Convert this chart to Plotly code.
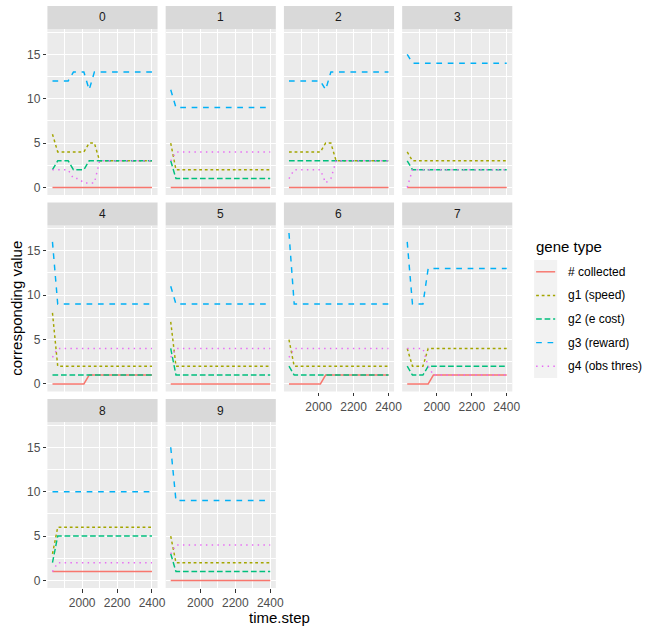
import plotly.graph_objects as go

# ---------------- data ----------------
time_step = [1830, 1860, 1890, 1920, 1950, 1980, 2010, 2040, 2070, 2100,
             2130, 2160, 2190, 2220, 2250, 2280, 2310, 2340, 2370, 2400]

gene_types = ["# collected", "g1 (speed)", "g2 (e cost)", "g3 (reward)", "g4 (obs thres)"]
panel_ids = ["0", "1", "2", "3", "4", "5", "6", "7", "8", "9"]

p0_collected = [0, 0, 0, 0, 0, 0, 0, 0, 0, 0, 0, 0, 0, 0, 0, 0, 0, 0, 0, 0]
p0_g1 = [6, 4, 4, 4, 4, 4, 4, 5, 5, 3, 3, 3, 3, 3, 3, 3, 3, 3, 3, 3]
p0_g2 = [2, 3, 3, 3, 2, 2, 2, 3, 3, 3, 3, 3, 3, 3, 3, 3, 3, 3, 3, 3]
p0_g3 = [12, 12, 12, 12, 13, 13, 13, 11, 13, 13, 13, 13, 13, 13, 13, 13, 13, 13, 13, 13]
p0_g4 = [2, 2, 2, 2, 1, 1, 0.5, 0.5, 0.5, 3, 3, 3, 3, 3, 3, 3, 3, 3, 3, 3]

p1_collected = [0, 0, 0, 0, 0, 0, 0, 0, 0, 0, 0, 0, 0, 0, 0, 0, 0, 0, 0, 0]
p1_g1 = [5, 2, 2, 2, 2, 2, 2, 2, 2, 2, 2, 2, 2, 2, 2, 2, 2, 2, 2, 2]
p1_g2 = [3, 1, 1, 1, 1, 1, 1, 1, 1, 1, 1, 1, 1, 1, 1, 1, 1, 1, 1, 1]
p1_g3 = [11, 9, 9, 9, 9, 9, 9, 9, 9, 9, 9, 9, 9, 9, 9, 9, 9, 9, 9, 9]
p1_g4 = [3, 4, 4, 4, 4, 4, 4, 4, 4, 4, 4, 4, 4, 4, 4, 4, 4, 4, 4, 4]

p2_collected = [0, 0, 0, 0, 0, 0, 0, 0, 0, 0, 0, 0, 0, 0, 0, 0, 0, 0, 0, 0]
p2_g1 = [4, 4, 4, 4, 4, 4, 4, 5, 5, 3, 3, 3, 3, 3, 3, 3, 3, 3, 3, 3]
p2_g2 = [3, 3, 3, 3, 3, 3, 3, 3, 3, 3, 3, 3, 3, 3, 3, 3, 3, 3, 3, 3]
p2_g3 = [12, 12, 12, 12, 12, 12, 12, 11, 13, 13, 13, 13, 13, 13, 13, 13, 13, 13, 13, 13]
p2_g4 = [1, 2, 2, 2, 2, 2, 2, 0.5, 1, 3, 3, 3, 3, 3, 3, 3, 3, 3, 3, 3]

p3_collected = [0, 0, 0, 0, 0, 0, 0, 0, 0, 0, 0, 0, 0, 0, 0, 0, 0, 0, 0, 0]
p3_g1 = [4, 3, 3, 3, 3, 3, 3, 3, 3, 3, 3, 3, 3, 3, 3, 3, 3, 3, 3, 3]
p3_g2 = [3, 2, 2, 2, 2, 2, 2, 2, 2, 2, 2, 2, 2, 2, 2, 2, 2, 2, 2, 2]
p3_g3 = [15, 14, 14, 14, 14, 14, 14, 14, 14, 14, 14, 14, 14, 14, 14, 14, 14, 14, 14, 14]
p3_g4 = [0, 2, 2, 2, 2, 2, 2, 2, 2, 2, 2, 2, 2, 2, 2, 2, 2, 2, 2, 2]

p4_collected = [0, 0, 0, 0, 0, 0, 0, 1, 1, 1, 1, 1, 1, 1, 1, 1, 1, 1, 1, 1]
p4_g1 = [8, 2, 2, 2, 2, 2, 2, 2, 2, 2, 2, 2, 2, 2, 2, 2, 2, 2, 2, 2]
p4_g2 = [1, 1, 1, 1, 1, 1, 1, 1, 1, 1, 1, 1, 1, 1, 1, 1, 1, 1, 1, 1]
p4_g3 = [16, 9, 9, 9, 9, 9, 9, 9, 9, 9, 9, 9, 9, 9, 9, 9, 9, 9, 9, 9]
p4_g4 = [3, 4, 4, 4, 4, 4, 4, 4, 4, 4, 4, 4, 4, 4, 4, 4, 4, 4, 4, 4]

p5_collected = [0, 0, 0, 0, 0, 0, 0, 0, 0, 0, 0, 0, 0, 0, 0, 0, 0, 0, 0, 0]
p5_g1 = [7, 2, 2, 2, 2, 2, 2, 2, 2, 2, 2, 2, 2, 2, 2, 2, 2, 2, 2, 2]
p5_g2 = [4, 1, 1, 1, 1, 1, 1, 1, 1, 1, 1, 1, 1, 1, 1, 1, 1, 1, 1, 1]
p5_g3 = [11, 9, 9, 9, 9, 9, 9, 9, 9, 9, 9, 9, 9, 9, 9, 9, 9, 9, 9, 9]
p5_g4 = [3, 4, 4, 4, 4, 4, 4, 4, 4, 4, 4, 4, 4, 4, 4, 4, 4, 4, 4, 4]

p6_collected = [0, 0, 0, 0, 0, 0, 0, 1, 1, 1, 1, 1, 1, 1, 1, 1, 1, 1, 1, 1]
p6_g1 = [5, 2, 2, 2, 2, 2, 2, 2, 2, 2, 2, 2, 2, 2, 2, 2, 2, 2, 2, 2]
p6_g2 = [2, 1, 1, 1, 1, 1, 1, 1, 1, 1, 1, 1, 1, 1, 1, 1, 1, 1, 1, 1]
p6_g3 = [17, 9, 9, 9, 9, 9, 9, 9, 9, 9, 9, 9, 9, 9, 9, 9, 9, 9, 9, 9]
p6_g4 = [3, 4, 4, 4, 4, 4, 4, 4, 4, 4, 4, 4, 4, 4, 4, 4, 4, 4, 4, 4]

p7_collected = [0, 0, 0, 0, 0, 1, 1, 1, 1, 1, 1, 1, 1, 1, 1, 1, 1, 1, 1, 1]
p7_g1 = [4, 2, 2, 2, 4, 4, 4, 4, 4, 4, 4, 4, 4, 4, 4, 4, 4, 4, 4, 4]
p7_g2 = [2, 1, 1, 1, 2, 2, 2, 2, 2, 2, 2, 2, 2, 2, 2, 2, 2, 2, 2, 2]
p7_g3 = [16, 9, 9, 9, 13, 13, 13, 13, 13, 13, 13, 13, 13, 13, 13, 13, 13, 13, 13, 13]
p7_g4 = [4, 4, 4, 4, 2, 1, 1, 1, 1, 1, 1, 1, 1, 1, 1, 1, 1, 1, 1, 1]

p8_collected = [1, 1, 1, 1, 1, 1, 1, 1, 1, 1, 1, 1, 1, 1, 1, 1, 1, 1, 1, 1]
p8_g1 = [3, 6, 6, 6, 6, 6, 6, 6, 6, 6, 6, 6, 6, 6, 6, 6, 6, 6, 6, 6]
p8_g2 = [2, 5, 5, 5, 5, 5, 5, 5, 5, 5, 5, 5, 5, 5, 5, 5, 5, 5, 5, 5]
p8_g3 = [10, 10, 10, 10, 10, 10, 10, 10, 10, 10, 10, 10, 10, 10, 10, 10, 10, 10, 10, 10]
p8_g4 = [1, 2, 2, 2, 2, 2, 2, 2, 2, 2, 2, 2, 2, 2, 2, 2, 2, 2, 2, 2]

p9_collected = [0, 0, 0, 0, 0, 0, 0, 0, 0, 0, 0, 0, 0, 0, 0, 0, 0, 0, 0, 0]
p9_g1 = [5, 2, 2, 2, 2, 2, 2, 2, 2, 2, 2, 2, 2, 2, 2, 2, 2, 2, 2, 2]
p9_g2 = [3, 1, 1, 1, 1, 1, 1, 1, 1, 1, 1, 1, 1, 1, 1, 1, 1, 1, 1, 1]
p9_g3 = [15, 9, 9, 9, 9, 9, 9, 9, 9, 9, 9, 9, 9, 9, 9, 9, 9, 9, 9, 9]
p9_g4 = [3, 4, 4, 4, 4, 4, 4, 4, 4, 4, 4, 4, 4, 4, 4, 4, 4, 4, 4, 4]

x_ticks = [2000, 2200, 2400]
x_minor = [1900, 2100, 2300]
y_ticks = [0, 5, 10, 15]
y_minor = [2.5, 7.5, 12.5, 17.5]

panels = [
    [p0_collected, p0_g1, p0_g2, p0_g3, p0_g4],
    [p1_collected, p1_g1, p1_g2, p1_g3, p1_g4],
    [p2_collected, p2_g1, p2_g2, p2_g3, p2_g4],
    [p3_collected, p3_g1, p3_g2, p3_g3, p3_g4],
    [p4_collected, p4_g1, p4_g2, p4_g3, p4_g4],
    [p5_collected, p5_g1, p5_g2, p5_g3, p5_g4],
    [p6_collected, p6_g1, p6_g2, p6_g3, p6_g4],
    [p7_collected, p7_g1, p7_g2, p7_g3, p7_g4],
    [p8_collected, p8_g1, p8_g2, p8_g3, p8_g4],
    [p9_collected, p9_g1, p9_g2, p9_g3, p9_g4],
]

# ---------------- styles ----------------
colors = ["#F8766D", "#A3A500", "#00BF7D", "#00B0F6", "#E76BF3"]
LW = 1.45
dashes = ["solid", "2.8px,2.8px", "5.7px,2.8px", "5.7px,5.7px", "1.45px,4.3px"]
FONT = "Liberation Sans, Arial, Helvetica, sans-serif"

W, H = 659, 626
col_left = [48, 167.7, 287.4, 407.1]
panel_w = 111.5
row_strip_top = [6, 202.5, 399]
strip_h = 23
plot_h = 166

fig = go.Figure()
layout = dict(
    width=W, height=H,
    margin=dict(l=0, r=0, t=0, b=0),
    paper_bgcolor="white", plot_bgcolor="#EBEBEB",
    showlegend=False,
    font=dict(family=FONT, size=12, color="#4D4D4D"),
)
shapes = []
annotations = []

for i, series in enumerate(panels):
    r, c = divmod(i, 4)
    x0 = col_left[c]
    x1 = x0 + panel_w
    st = row_strip_top[r]
    yt = st + strip_h
    yb = yt + plot_h
    n = "" if i == 0 else str(i + 1)
    for g, vals in enumerate(series):
        fig.add_trace(go.Scatter(
            x=time_step, y=vals, mode="lines", name=gene_types[g],
            xaxis="x" + n, yaxis="y" + n,
            line=dict(color=colors[g], width=LW, dash=dashes[g]),
            hoverinfo="skip",
        ))
    show_x = i in (6, 7, 8, 9)
    show_y = c == 0
    layout["xaxis" + n] = dict(
        domain=[x0 / W, x1 / W], anchor="y" + n, range=[1801, 2432],
        tickvals=x_ticks, showticklabels=show_x,
        ticks="outside" if show_x else "", ticklen=3.7, tickwidth=1.07, tickcolor="#333333",
        showgrid=True, gridcolor="white", gridwidth=1.4, zeroline=False, showline=False,
        minor=dict(tickvals=x_minor, showgrid=True, gridcolor="white", gridwidth=0.7, ticks=""),
        tickfont=dict(family=FONT, size=12, color="#4D4D4D"),
        fixedrange=True,
    )
    layout["yaxis" + n] = dict(
        domain=[1 - yb / H, 1 - yt / H], anchor="x" + n, range=[-0.85, 17.85],
        tickvals=y_ticks, showticklabels=show_y,
        ticks="outside" if show_y else "", ticklen=3.7, tickwidth=1.07, tickcolor="#333333",
        showgrid=True, gridcolor="white", gridwidth=1.4, zeroline=False, showline=False,
        minor=dict(tickvals=y_minor, showgrid=True, gridcolor="white", gridwidth=0.7, ticks=""),
        tickfont=dict(family=FONT, size=12, color="#4D4D4D"),
        fixedrange=True,
    )
    shapes.append(dict(type="rect", xref="paper", yref="paper",
                       x0=x0 / W, x1=x1 / W, y0=1 - yt / H, y1=1 - st / H,
                       fillcolor="#D9D9D9", line=dict(width=0), layer="below"))
    annotations.append(dict(text=panel_ids[i], xref="paper", yref="paper",
                            x=(x0 + x1) / 2 / W, y=1 - (st + strip_h / 2) / H,
                            xanchor="center", yanchor="middle", showarrow=False,
                            font=dict(family=FONT, size=12, color="#1A1A1A")))

# axis titles
annotations.append(dict(text="time.step", xref="paper", yref="paper",
                        x=(col_left[0] + col_left[3] + panel_w) / 2 / W, y=1 - 617.5 / H,
                        xanchor="center", yanchor="middle", showarrow=False,
                        font=dict(family=FONT, size=15, color="black")))
annotations.append(dict(text="corresponding value", xref="paper", yref="paper",
                        x=17 / W, y=1 - 308 / H, textangle=-90,
                        xanchor="center", yanchor="middle", showarrow=False,
                        font=dict(family=FONT, size=15, color="black")))

# legend (ggplot style)
leg_left = 540.7
key_w = 23.3
key_h = 23.6
key_top = 260
annotations.append(dict(text="gene type", xref="paper", yref="paper",
                        x=leg_left / W, y=1 - 246.5 / H, xanchor="left", yanchor="middle",
                        showarrow=False, font=dict(family=FONT, size=15, color="black")))
shapes.append(dict(type="rect", xref="paper", yref="paper",
                   x0=leg_left / W, x1=(leg_left + key_w) / W,
                   y0=1 - (key_top + 5 * key_h) / H, y1=1 - key_top / H,
                   fillcolor="#F2F2F2", line=dict(width=0), layer="above"))
for g, name in enumerate(gene_types):
    cy = key_top + key_h * (g + 0.5)
    shapes.append(dict(type="line", xref="paper", yref="paper",
                       x0=(leg_left + 2) / W, x1=(leg_left + key_w - 2) / W,
                       y0=1 - cy / H, y1=1 - cy / H,
                       line=dict(color=colors[g], width=LW, dash=dashes[g]), layer="above"))
    annotations.append(dict(text=name, xref="paper", yref="paper",
                            x=(leg_left + key_w + 8.7) / W, y=1 - cy / H,
                            xanchor="left", yanchor="middle", showarrow=False,
                            font=dict(family=FONT, size=12, color="black")))

layout["shapes"] = shapes
layout["annotations"] = annotations
fig.update_layout(**layout)
fig.write_html("out.html", config={"displayModeBar": False},
               post_script="document.body.style.margin='0px';")
